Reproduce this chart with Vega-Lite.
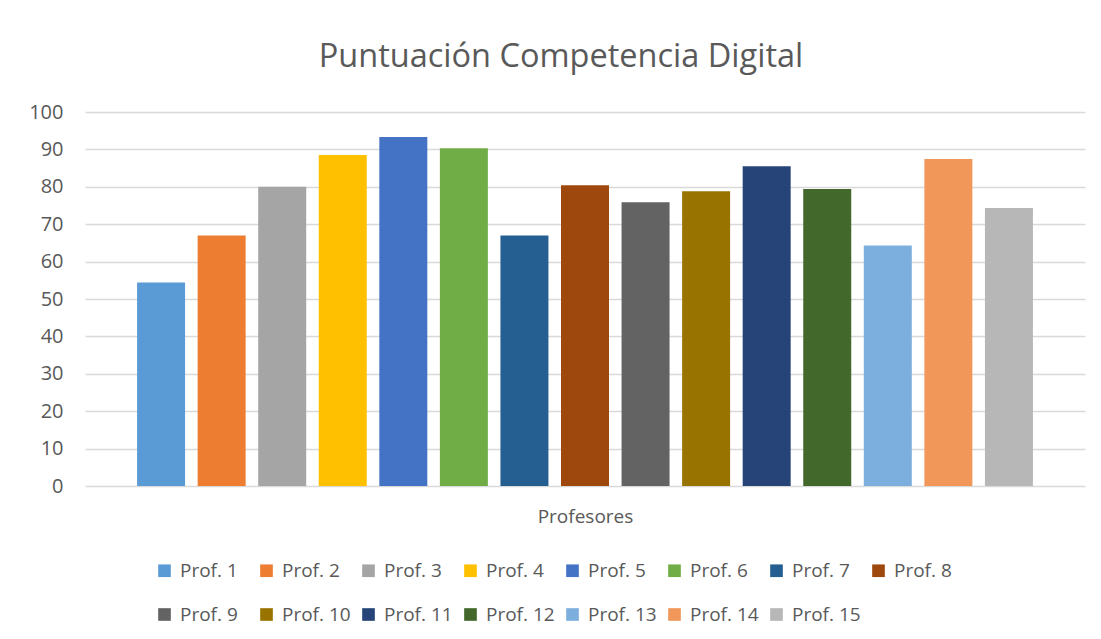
{
  "$schema": "https://vega.github.io/schema/vega-lite/v6.json",
  "autosize": {"type": "none"},
  "width": 1000,
  "height": 374,
  "padding": {"left": 85, "top": 112, "right": 16, "bottom": 153},
  "background": "white",
  "title": {
    "text": "Puntuación Competencia Digital",
    "font": "Open Sans",
    "fontSize": 32.5,
    "fontWeight": "normal",
    "color": "#595959",
    "anchor": "middle",
    "dx": -24,
    "offset": 29
  },
  "data": {
    "values": [
      {"prof": "Prof. 1", "score": 54.4},
      {"prof": "Prof. 2", "score": 67.0},
      {"prof": "Prof. 3", "score": 80.0},
      {"prof": "Prof. 4", "score": 88.5},
      {"prof": "Prof. 5", "score": 93.3},
      {"prof": "Prof. 6", "score": 90.3},
      {"prof": "Prof. 7", "score": 67.0},
      {"prof": "Prof. 8", "score": 80.4},
      {"prof": "Prof. 9", "score": 75.9},
      {"prof": "Prof. 10", "score": 78.8},
      {"prof": "Prof. 11", "score": 85.5},
      {"prof": "Prof. 12", "score": 79.4},
      {"prof": "Prof. 13", "score": 64.3},
      {"prof": "Prof. 14", "score": 87.4},
      {"prof": "Prof. 15", "score": 74.3}
    ]
  },
  "mark": {"type": "bar"},
  "encoding": {
    "x": {
      "field": "prof",
      "type": "nominal",
      "sort": ["Prof. 1","Prof. 2","Prof. 3","Prof. 4","Prof. 5","Prof. 6","Prof. 7","Prof. 8","Prof. 9","Prof. 10","Prof. 11","Prof. 12","Prof. 13","Prof. 14","Prof. 15"],
      "scale": {"paddingInner": 0.2075, "paddingOuter": 0.86},
      "axis": {
        "title": "Profesores",
        "labels": false,
        "ticks": false,
        "domain": false,
        "grid": false,
        "titleFont": "Open Sans",
        "titleFontSize": 19,
        "titleFontWeight": "normal",
        "titleColor": "#595959",
        "titlePadding": 21
      }
    },
    "y": {
      "field": "score",
      "type": "quantitative",
      "scale": {"domain": [0, 100], "nice": false},
      "axis": {
        "title": null,
        "values": [0,10,20,30,40,50,60,70,80,90,100],
        "domain": false,
        "ticks": false,
        "grid": true,
        "gridColor": "#d9d9d9",
        "gridWidth": 1.5,
        "labelFont": "Open Sans",
        "labelFontSize": 20,
        "labelColor": "#595959",
        "labelPadding": 22
      }
    },
    "color": {
      "field": "prof",
      "type": "nominal",
      "scale": {
        "domain": ["Prof. 1","Prof. 2","Prof. 3","Prof. 4","Prof. 5","Prof. 6","Prof. 7","Prof. 8","Prof. 9","Prof. 10","Prof. 11","Prof. 12","Prof. 13","Prof. 14","Prof. 15"],
        "range": ["#5B9BD5","#ED7D31","#A5A5A5","#FFC000","#4472C4","#70AD47","#255E91","#9E480E","#636363","#997300","#264478","#43682B","#7CAFDD","#F1975A","#B7B7B7"]
      },
      "legend": {
        "title": null,
        "orient": "none",
        "legendX": 70,
        "legendY": 449,
        "direction": "horizontal",
        "columns": 8,
        "gridAlign": "all",
        "symbolType": "square",
        "symbolSize": 160,
        "symbolStrokeWidth": 0,
        "symbolOffset": 0,
        "labelOffset": 6,
        "labelFont": "Open Sans",
        "labelFontSize": 19,
        "labelColor": "#595959",
        "columnPadding": 8,
        "rowPadding": 24
      }
    }
  },
  "config": {
    "view": {"stroke": null}
  }
}
